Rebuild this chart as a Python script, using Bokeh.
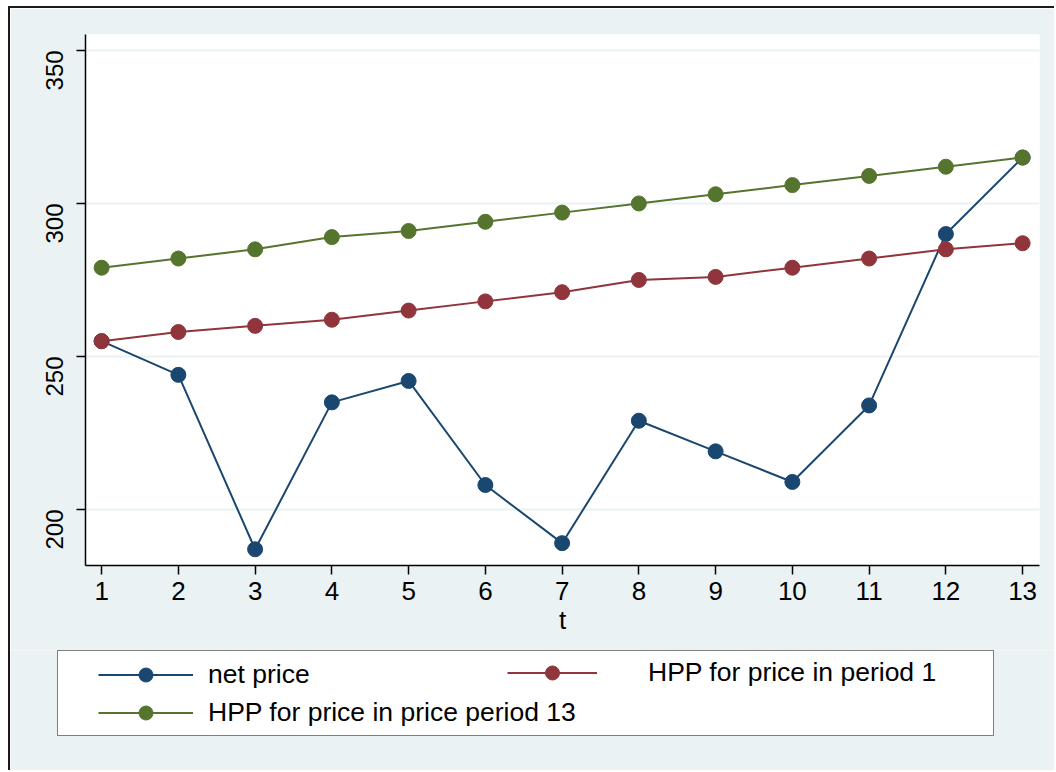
import math
from bokeh.plotting import figure
from bokeh.models import Legend, LegendItem, Range1d, FixedTicker
from bokeh.embed import file_html
from bokeh.resources import INLINE

t = list(range(1, 14))
net_price = [255, 244, 187, 235, 242, 208, 189, 229, 219, 209, 234, 290, 315]
hpp_period1 = [255, 258, 260, 262, 265, 268, 271, 275, 276, 279, 282, 285, 287]
hpp_period13 = [279, 282, 285, 289, 291, 294, 297, 300, 303, 306, 309, 312, 315]
y_ticks = [200, 250, 300, 350]
labels = ["net price", "HPP for price in period 1", "HPP for price in price period 13"]

NAVY = "#1a476f"
MAROON = "#90353b"
GREEN = "#55752f"
BG = "#eaf2f3"
FONT = "Liberation Sans"
colors = [NAVY, MAROON, GREEN]
series = [net_price, hpp_period1, hpp_period13]

# ---- main chart ----
p = figure(width=1046, height=644, output_backend="svg", toolbar_location=None,
           x_range=Range1d(0.79, 13.22), y_range=Range1d(181.7, 355.2),
           min_border_left=75, min_border_top=26, min_border_right=17, min_border_bottom=87)
p.background_fill_color = "white"
p.border_fill_color = BG
p.outline_line_color = None
p.styles = {"margin-left": "8px", "margin-top": "6px",
            "border-left": "2px solid #1a1a1a", "border-top": "2px solid #1a1a1a"}

p.xgrid.visible = False
p.ygrid.ticker = FixedTicker(ticks=y_ticks)
p.ygrid.grid_line_color = BG
p.ygrid.grid_line_width = 2

p.xaxis.ticker = FixedTicker(ticks=t)
p.yaxis.ticker = FixedTicker(ticks=y_ticks)
for ax in (p.xaxis[0], p.yaxis[0]):
    ax.axis_line_color = "black"
    ax.axis_line_width = 1.5
    ax.major_tick_line_color = "black"
    ax.major_tick_line_width = 1.5
    ax.major_tick_out = 9
    ax.major_tick_in = 0
    ax.minor_tick_line_color = None
    ax.major_label_text_font = FONT
    ax.major_label_text_color = "black"
p.xaxis.major_label_text_font_size = "26px"
p.yaxis.major_label_text_font_size = "24px"
p.yaxis.major_label_orientation = math.pi / 2
p.yaxis.major_label_standoff = 22
p.xaxis.major_label_standoff = 7
p.xaxis.axis_label = "t"
p.xaxis.axis_label_text_font = FONT
p.xaxis.axis_label_text_font_size = "26px"
p.xaxis.axis_label_text_font_style = "normal"
p.xaxis.axis_label_text_color = "black"
p.xaxis.axis_label_standoff = 2

for vals, col in zip(series, colors):
    p.line(t, vals, line_color=col, line_width=2)
    p.scatter(t, vals, size=15, fill_color=col, line_color=col, marker="circle")

# ---- legend strip (separate figure, same background) ----
q = figure(width=1046, height=120, output_backend="svg", toolbar_location=None,
           x_range=Range1d(100, 101), y_range=Range1d(1000, 1001),
           min_border_left=0, min_border_right=0, min_border_top=0, min_border_bottom=0)
q.axis.visible = False
q.grid.visible = False
q.outline_line_color = None
q.background_fill_color = BG
q.border_fill_color = BG
q.styles = {"margin-left": "8px", "border-left": "2px solid #1a1a1a"}

rends = []
for vals, col in zip(series, colors):
    l = q.line(t, vals, line_color=col, line_width=2)
    s = q.scatter(t, vals, size=15, fill_color=col, line_color=col, marker="circle")
    rends.append([l, s])
dummy = q.line(t, net_price, line_alpha=0)

box = Legend(items=[LegendItem(label=" ", renderers=[dummy])], location=(47, 34),
             padding=0, margin=0, glyph_width=20, glyph_height=84, label_height=84,
             label_width=915, label_standoff=0, border_line_color="black", border_line_width=1.5,
             background_fill_color="white", background_fill_alpha=1.0)
common = dict(padding=0, margin=0, glyph_height=35, label_height=35,
              border_line_color=None, background_fill_alpha=0.0,
              label_text_font=FONT, label_text_font_size="26.5px", label_text_color="black")
legA = Legend(items=[LegendItem(label=labels[0], renderers=rends[0]),
                     LegendItem(label=labels[2], renderers=rends[2])],
              location=(88, 40.5), spacing=3, glyph_width=95, label_standoff=15, **common)
legB = Legend(items=[LegendItem(label=labels[1], renderers=rends[1])],
              location=(497, 80), glyph_width=90, label_standoff=51, **common)
q.add_layout(box)
q.add_layout(legA)
q.add_layout(legB)

open("out.html", "w").write(file_html([p, q], INLINE))
